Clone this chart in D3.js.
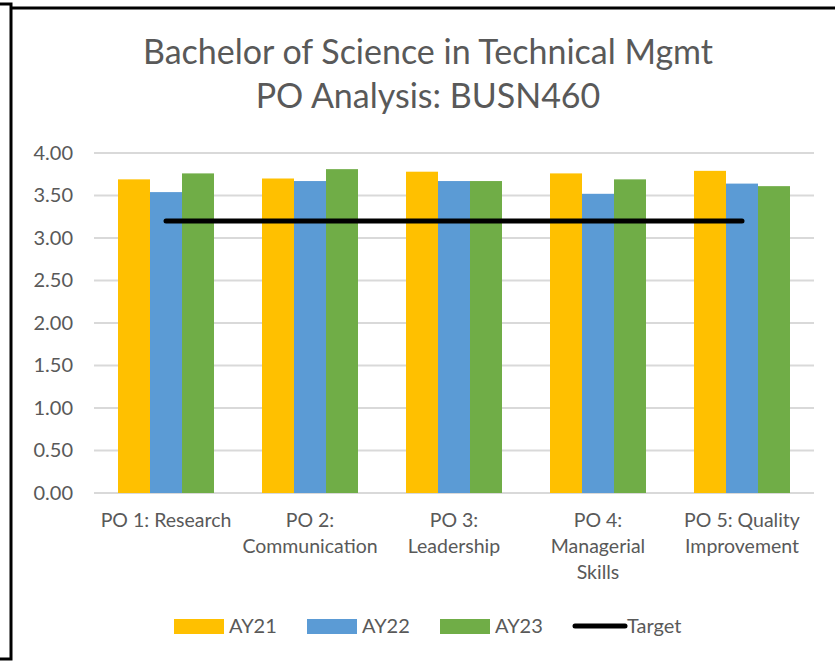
<!DOCTYPE html>
<html>
<head>
<meta charset="utf-8">
<script src="https://cdn.jsdelivr.net/npm/d3@7"></script>
<style>
  body { margin: 0; background: #fff; }
  text { font-family: Lato, "Open Sans", sans-serif; fill: #595959; }
</style>
</head>
<body>
<div id="chart"></div>
<script>
const categories = ["PO 1: Research", "PO 2: Communication", "PO 3: Leadership", "PO 4: Managerial Skills", "PO 5: Quality Improvement"];
const categoryLines = [
    ["PO 1: Research"],
    ["PO 2:", "Communication"],
    ["PO 3:", "Leadership"],
    ["PO 4:", "Managerial", "Skills"],
    ["PO 5: Quality", "Improvement"]
];
const seriesNames = ["AY21", "AY22", "AY23"];
const ay21 = [3.69, 3.70, 3.78, 3.76, 3.79];
const ay22 = [3.54, 3.67, 3.67, 3.52, 3.64];
const ay23 = [3.76, 3.81, 3.67, 3.69, 3.61];
const target = [3.20, 3.20, 3.20, 3.20, 3.20];
const yTicks = [0, 0.5, 1, 1.5, 2, 2.5, 3, 3.5, 4];
const colors = ["#FFC000", "#5B9BD5", "#70AD47"];

const width = 835, height = 661;
const plot = { left: 94, right: 814, top: 153, bottom: 493 };

const svg = d3.select("#chart").append("svg")
    .attr("width", width)
    .attr("height", height);

// frame (the chart sits over another shape on the left)
svg.append("path")
    .attr("d", "M0,4 H11 V659 H0 M11,8 H835")
    .attr("fill", "none")
    .attr("stroke", "#000")
    .attr("stroke-width", 3);

// title
const title = svg.append("text")
    .attr("x", 428)
    .attr("text-anchor", "middle")
    .style("font-size", "34px");
title.append("tspan").attr("x", 428).attr("y", 64).text("Bachelor of Science in Technical Mgmt");
title.append("tspan").attr("x", 428).attr("y", 108).text("PO Analysis: BUSN460");

// scales
const x0 = d3.scaleBand()
    .domain(categories)
    .range([plot.left, plot.right]);

const x1 = d3.scaleBand()
    .domain(seriesNames)
    .range([24, x0.bandwidth() - 24]);

const y = d3.scaleLinear()
    .domain([0, 4])
    .range([plot.bottom, plot.top]);

// gridlines
svg.append("g")
    .selectAll("line")
    .data(yTicks)
    .join("line")
    .attr("x1", plot.left)
    .attr("x2", plot.right)
    .attr("y1", d => y(d))
    .attr("y2", d => y(d))
    .attr("stroke", "#D9D9D9")
    .attr("stroke-width", 2);

// y axis labels
const yAxis = svg.append("g")
    .attr("transform", `translate(${plot.left}, 0)`)
    .call(d3.axisLeft(y).tickValues(yTicks).tickFormat(d3.format(".2f")).tickSize(0).tickPadding(21));
yAxis.select(".domain").remove();
yAxis.selectAll("text")
    .attr("fill", "#595959")
    .style("font-size", "20px")
    .style("font-family", "Lato, sans-serif");

// bars
const seriesValues = [ay21, ay22, ay23];
const groups = svg.append("g")
    .selectAll("g")
    .data(categories)
    .join("g")
    .attr("transform", d => `translate(${x0(d)}, 0)`);

groups.selectAll("rect")
    .data((d, i) => seriesNames.map((s, j) => ({ series: s, value: seriesValues[j][i], color: colors[j] })))
    .join("rect")
    .attr("x", d => x1(d.series))
    .attr("width", x1.bandwidth())
    .attr("y", d => y(d.value))
    .attr("height", d => y(0) - y(d.value))
    .attr("fill", d => d.color);

// target line
const line = d3.line()
    .x((d, i) => x0(categories[i]) + x0.bandwidth() / 2)
    .y(d => y(d));

svg.append("path")
    .datum(target)
    .attr("fill", "none")
    .attr("stroke", "#000")
    .attr("stroke-width", 5)
    .attr("stroke-linecap", "round")
    .attr("d", line);

// x labels
const xLabels = svg.append("g")
    .selectAll("text")
    .data(categories)
    .join("text")
    .attr("text-anchor", "middle")
    .style("font-size", "19.5px");

xLabels.each(function(d, i) {
    const cx = x0(d) + x0.bandwidth() / 2;
    d3.select(this).selectAll("tspan")
        .data(categoryLines[i])
        .join("tspan")
        .attr("x", cx)
        .attr("y", (t, k) => 527 + k * 26)
        .text(t => t);
});

// legend
const legendItems = [
    { name: "AY21", color: colors[0], x: 174 },
    { name: "AY22", color: colors[1], x: 307 },
    { name: "AY23", color: colors[2], x: 440 },
    { name: "Target", color: "#000", x: 573, line: true }
];
const legendY = 626;

legendItems.forEach(item => {
    if (item.line) {
        svg.append("line")
            .attr("x1", item.x + 2)
            .attr("x2", item.x + 52)
            .attr("y1", legendY)
            .attr("y2", legendY)
            .attr("stroke", item.color)
            .attr("stroke-width", 5)
            .attr("stroke-linecap", "round");
    } else {
        svg.append("rect")
            .attr("x", item.x)
            .attr("y", legendY - 7)
            .attr("width", 50)
            .attr("height", 15)
            .attr("fill", item.color);
    }
    svg.append("text")
        .attr("x", item.x + (item.line ? 54 : 55))
        .attr("y", legendY + 7)
        .style("font-size", "20px")
        .text(item.name);
});
</script>
</body>
</html>
